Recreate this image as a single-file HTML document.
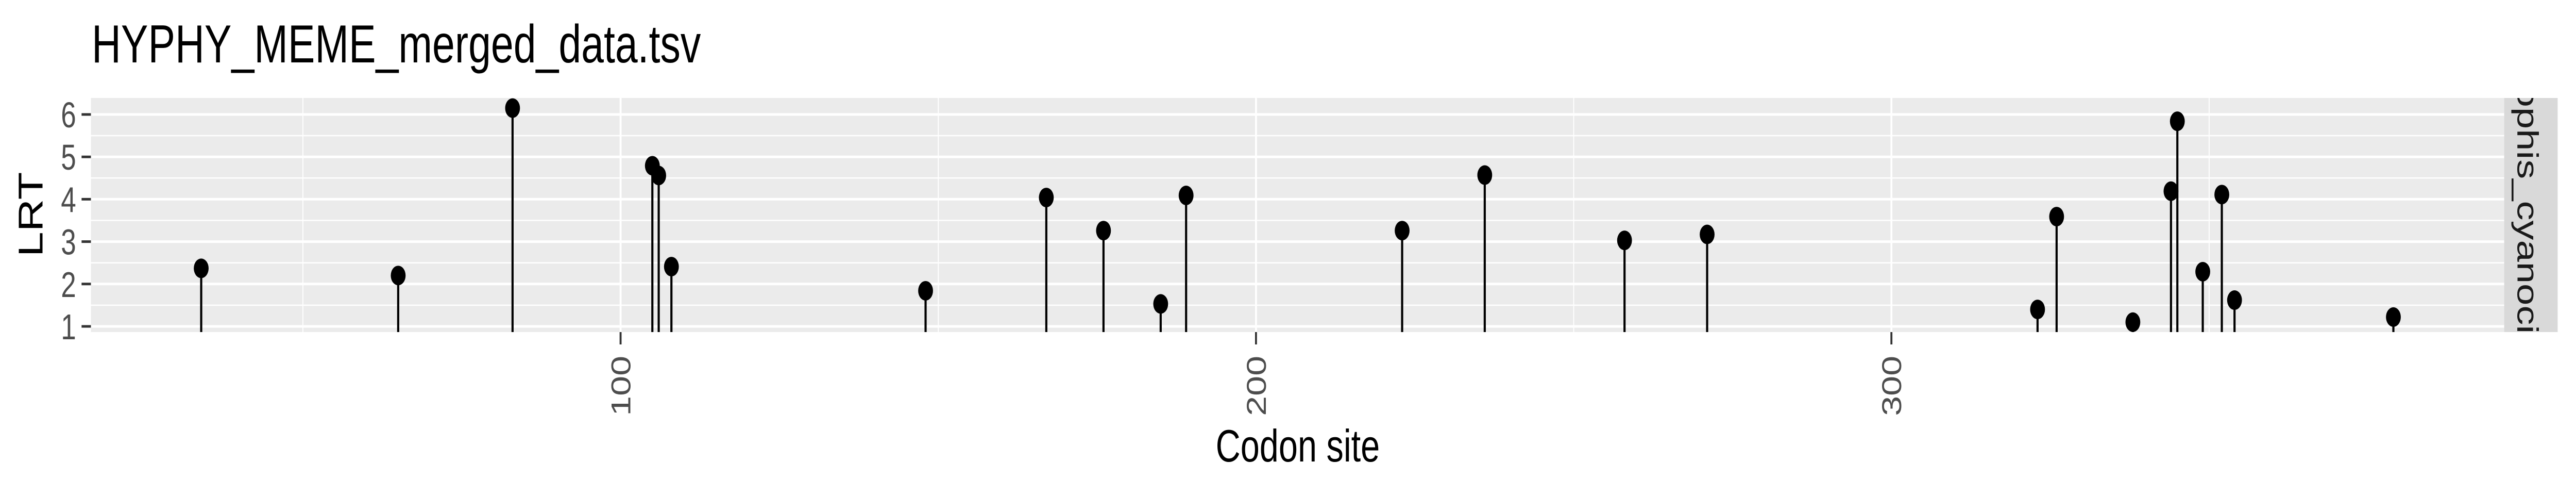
<!DOCTYPE html>
<html><head><meta charset="utf-8"><style>
html,body{margin:0;padding:0;background:#fff;width:100%;height:100%;overflow:hidden;}
svg{display:block;position:absolute;left:0;top:0;width:100vw;height:100vh;font-family:"Liberation Sans",sans-serif;}
</style></head><body>
<svg id="chart" viewBox="0 0 6600 960" preserveAspectRatio="none" xmlns="http://www.w3.org/2000/svg">
<rect width="6600" height="960" fill="#fff"/>
<text x="235" y="121" font-size="104" fill="#000">HYPHY_MEME_merged_data.tsv</text>
<rect x="233" y="190" width="6183" height="454" fill="#EBEBEB"/>
<g id="grid"></g>
<g id="marks"></g>
<g id="axes"></g>
<rect x="6416" y="190" width="137" height="454" fill="#D9D9D9"/>
<clipPath id="stripclip"><rect x="6416" y="190" width="137" height="454"/></clipPath>
<g clip-path="url(#stripclip)">
<text transform="translate(6450,417) rotate(90)" text-anchor="middle" font-size="76" fill="#1A1A1A">Hydrophis_cyanocinctus</text>
</g>
<text transform="translate(109,416) rotate(-90)" text-anchor="middle" font-size="88" fill="#000">LRT</text>
<text x="3325" y="895" text-anchor="middle" font-size="88" fill="#000">Codon site</text>
</svg>
<script>
const sites = [34, 65, 83, 105, 106, 108, 148, 167, 176, 185, 189, 223, 236, 258, 271, 323, 326, 338, 344, 345, 349, 352, 354, 379];
const lrt = [2.37, 2.20, 6.15, 4.79, 4.56, 2.41, 1.84, 4.04, 3.26, 1.53, 4.09, 3.26, 4.57, 3.03, 3.17, 1.40, 3.59, 1.10, 4.19, 5.84, 2.29, 4.11, 1.62, 1.22];
const xTicks = [100, 200, 300];
const xMinor = [50, 150, 250, 350];
const yTicks = [1, 2, 3, 4, 5, 6];
const yMinor = [1.5, 2.5, 3.5, 4.5, 5.5];

const NS = "http://www.w3.org/2000/svg";
const X = v => -38 + v * 16.28;
const Y = v => 633 - (v - 1) * 82.2;
const panelL = 233, panelR = 6416, panelT = 190, panelB = 644;
function mk(tag, attrs, parent) {
  const e = document.createElementNS(NS, tag);
  for (const k in attrs) e.setAttribute(k, attrs[k]);
  parent.appendChild(e);
  return e;
}
const grid = document.getElementById('grid');
const marks = document.getElementById('marks');
const axes = document.getElementById('axes');

yMinor.forEach(v => {
  const l = mk('line', {x1: panelL, x2: panelR, y1: Y(v), y2: Y(v), stroke: '#fff', 'stroke-width': 2.5}, grid);
  
  
});
xMinor.forEach(v => {
  const l = mk('line', {x1: X(v), x2: X(v), y1: panelT, y2: panelB, stroke: '#fff', 'stroke-width': 2.5}, grid);
  
  
});
yTicks.forEach(v => {
  const l = mk('line', {x1: panelL, x2: panelR, y1: Y(v), y2: Y(v), stroke: '#fff', 'stroke-width': 5}, grid);
  
  
  const t = mk('line', {x1: 209, x2: 233, y1: Y(v), y2: Y(v), stroke: '#333', 'stroke-width': 5}, axes);
  
  
  const tx = mk('text', {x: 195, y: Y(v) + 25, 'text-anchor': 'end', 'font-size': 70, fill: '#4D4D4D'}, axes);
  tx.textContent = v;
  
  
});
xTicks.forEach(v => {
  const l = mk('line', {x1: X(v), x2: X(v), y1: panelT, y2: panelB, stroke: '#fff', 'stroke-width': 5}, grid);
  
  
  const t = mk('line', {x1: X(v), x2: X(v), y1: 644, y2: 668, stroke: '#333', 'stroke-width': 5}, axes);
  
  
  const tx = mk('text', {transform: `translate(${X(v) + 25},690) rotate(-90)`, 'text-anchor': 'end', 'font-size': 70, fill: '#4D4D4D'}, axes);
  tx.textContent = v;
  
  
});
sites.forEach((s, i) => {
  const st = mk('line', {x1: X(s), x2: X(s), y1: panelB, y2: Y(lrt[i]), stroke: '#000', 'stroke-width': 5.5}, marks);
  
  
  const c = mk('circle', {cx: X(s), cy: Y(lrt[i]), r: 19, fill: '#000'}, marks);
  
  
});
</script>
</body></html>
